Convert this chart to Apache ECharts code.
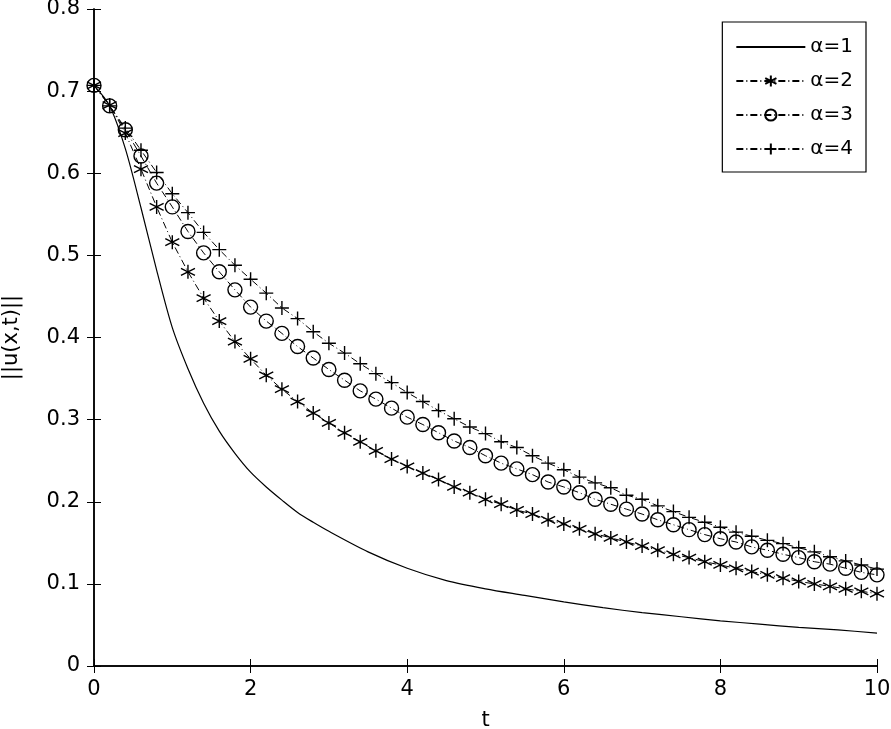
<!DOCTYPE html>
<html>
<head>
<meta charset="utf-8">
<script src="https://cdn.jsdelivr.net/npm/echarts@6/dist/echarts.min.js"></script>
<style>
  html, body { margin: 0; padding: 0; background: #fff; }
  #main { width: 891px; height: 729px; }
</style>
</head>
<body>
<div id="main"></div>
<script>
// marker times (t) shared by alpha = 2, 3, 4
const tMarks = [0, 0.2, 0.4, 0.6, 0.8, 1.0, 1.2, 1.4, 1.6, 1.8,
  2.0, 2.2, 2.4, 2.6, 2.8, 3.0, 3.2, 3.4, 3.6, 3.8,
  4.0, 4.2, 4.4, 4.6, 4.8, 5.0, 5.2, 5.4, 5.6, 5.8,
  6.0, 6.2, 6.4, 6.6, 6.8, 7.0, 7.2, 7.4, 7.6, 7.8,
  8.0, 8.2, 8.4, 8.6, 8.8, 9.0, 9.2, 9.4, 9.6, 9.8, 10.0]

const alpha2 = [0.707, 0.683, 0.649, 0.605, 0.559, 0.516, 0.480, 0.448, 0.420, 0.395,
  0.374, 0.354, 0.337, 0.322, 0.308, 0.296, 0.284, 0.273, 0.262, 0.252,
  0.243, 0.235, 0.227, 0.218, 0.211, 0.203, 0.197, 0.190, 0.185, 0.178,
  0.173, 0.167, 0.161, 0.156, 0.151, 0.146, 0.141, 0.136, 0.132, 0.127,
  0.123, 0.119, 0.115, 0.111, 0.107, 0.103, 0.100, 0.097, 0.094, 0.091, 0.088]

const alpha3 = [0.707, 0.682, 0.653, 0.621, 0.588, 0.559, 0.529, 0.503, 0.480, 0.458,
  0.437, 0.420, 0.405, 0.389, 0.375, 0.361, 0.348, 0.335, 0.325, 0.314,
  0.303, 0.294, 0.284, 0.274, 0.266, 0.256, 0.247, 0.240, 0.233, 0.224,
  0.218, 0.211, 0.203, 0.197, 0.191, 0.185, 0.178, 0.172, 0.166, 0.160,
  0.155, 0.151, 0.145, 0.141, 0.136, 0.132, 0.127, 0.124, 0.119, 0.114, 0.111]

const alpha4 = [0.707, 0.682, 0.655, 0.628, 0.601, 0.575, 0.552, 0.528, 0.507, 0.488,
  0.471, 0.454, 0.436, 0.423, 0.407, 0.393, 0.381, 0.368, 0.356, 0.345,
  0.333, 0.322, 0.311, 0.301, 0.291, 0.283, 0.273, 0.266, 0.256, 0.247,
  0.239, 0.230, 0.223, 0.217, 0.208, 0.203, 0.195, 0.188, 0.181, 0.175,
  0.169, 0.163, 0.158, 0.153, 0.149, 0.144, 0.139, 0.133, 0.128, 0.123, 0.118]

// solid curve (alpha = 1)
const tSolid = [0, 0.2, 0.4, 0.6, 0.8, 1.0, 1.2, 1.4, 1.6, 1.8, 2.0, 2.2, 2.4, 2.6, 2.8,
  3.0, 3.5, 4.0, 4.5, 5.0, 5.5, 6.0, 6.5, 7.0, 7.5, 8.0, 8.5, 9.0, 9.5, 10.0]
const alpha1 = [0.707, 0.682, 0.630, 0.558, 0.482, 0.412, 0.362, 0.320, 0.286, 0.259, 0.236, 0.218, 0.202, 0.187, 0.175,
  0.164, 0.139, 0.119, 0.104, 0.094, 0.086, 0.078, 0.071, 0.065, 0.060, 0.055, 0.051, 0.047, 0.044, 0.040]

const names = ['α=1', 'α=2', 'α=3', 'α=4']

const pair = (xs, ys) => xs.map((x, i) => [x, ys[i]])

// stroke-only marker shapes
const starPath = 'path://M5,0L5,10M0.67,2.5L9.33,7.5M0.67,7.5L9.33,2.5'
const plusPath = 'path://M0,5L10,5M5,0L5,10'
const dashDot = [7, 3, 1, 3]

const FONT = 'DejaVu Sans, Liberation Sans, Arial, sans-serif'

function markerSeries (name, data, symbol, size) {
  return {
    name: name,
    type: 'line',
    data: data,
    symbol: symbol,
    symbolSize: size,
    showSymbol: true,
    lineStyle: { color: '#000', width: 1, type: dashDot },
    itemStyle: { color: 'rgba(0,0,0,0)', borderColor: '#000', borderWidth: 1.4 },
    emphasis: { disabled: true }
  }
}

const option = {
  animation: false,
  backgroundColor: '#fff',
  textStyle: { fontFamily: FONT, color: '#000' },
  grid: { left: 94, right: 14, top: 9, bottom: 63, outerBoundsMode: 'none' },
  legend: {
    data: [
      { name: names[0], itemStyle: { color: 'rgba(0,0,0,0)', borderWidth: 0 } },
      names[1], names[2], names[3]
    ],
    orient: 'vertical',
    right: 25,
    top: 22,
    padding: [15, 13, 13, 13],
    itemGap: 14,
    itemWidth: 69,
    itemHeight: 14,
    backgroundColor: '#fff',
    borderColor: '#000',
    borderWidth: 1.2,
    borderRadius: 0,
    textStyle: { fontSize: 20, color: '#000', fontFamily: FONT }
  },
  xAxis: [
    {
      type: 'value',
      min: 0,
      max: 10,
      interval: 2,
      name: 't',
      nameLocation: 'middle',
      nameGap: 44,
      nameTextStyle: { fontSize: 21, color: '#000' },
      axisLine: { lineStyle: { color: '#000', width: 1.5 } },
      axisTick: { inside: true, length: 7, lineStyle: { color: '#000' } },
      axisLabel: { fontSize: 21, color: '#000', margin: 13 },
      splitLine: { show: false }
    },
    {
      type: 'value',
      position: 'top',
      min: 0,
      max: 10,
      interval: 2,
      axisLine: { lineStyle: { color: '#000', width: 1.5 } },
      axisTick: { inside: true, length: 7, lineStyle: { color: '#000' } },
      axisLabel: { show: false },
      splitLine: { show: false }
    }
  ],
  yAxis: [
    {
      type: 'value',
      min: 0,
      max: 0.8,
      interval: 0.1,
      name: '||u(x,t)||',
      nameLocation: 'middle',
      nameGap: 72,
      nameTextStyle: { fontSize: 21, color: '#000' },
      axisLine: { lineStyle: { color: '#000', width: 1.5 } },
      axisTick: { inside: true, length: 7, lineStyle: { color: '#000' } },
      axisLabel: { fontSize: 21, color: '#000', margin: 14 },
      splitLine: { show: false }
    },
    {
      type: 'value',
      position: 'right',
      min: 0,
      max: 0.8,
      interval: 0.1,
      axisLine: { show: true, lineStyle: { color: '#000', width: 1.5 } },
      axisTick: { show: true, inside: true, length: 7, lineStyle: { color: '#000' } },
      axisLabel: { show: false },
      splitLine: { show: false }
    }
  ],
  series: [
    {
      name: names[0],
      type: 'line',
      data: pair(tSolid, alpha1),
      smooth: 0.3,
      showSymbol: false,
      symbol: 'none',
      lineStyle: { color: '#000', width: 1.2 },
      itemStyle: { color: '#000' },
      emphasis: { disabled: true }
    },
    markerSeries(names[1], pair(tMarks, alpha2), starPath, 14),
    markerSeries(names[2], pair(tMarks, alpha3), 'circle', 14),
    markerSeries(names[3], pair(tMarks, alpha4), plusPath, 14)
  ]
}

const myChart = echarts.init(document.getElementById('main'))
myChart.setOption(option)
</script>
</body>
</html>
